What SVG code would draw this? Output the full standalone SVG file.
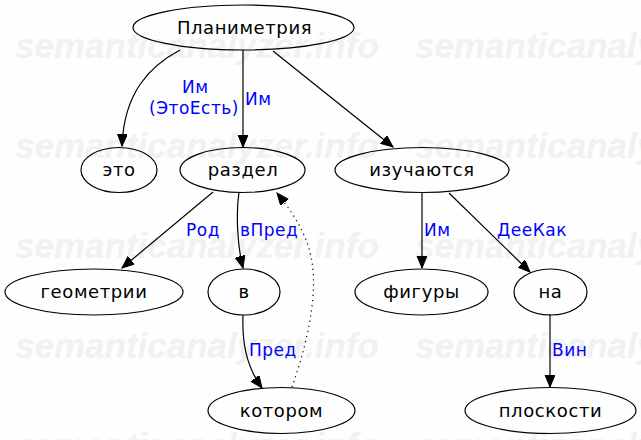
<svg xmlns="http://www.w3.org/2000/svg" width="641" height="440" viewBox="0 0 641 440">
  <style>
    .wm { font-family: "Liberation Sans", Arial, sans-serif; font-weight: bold; font-style: italic; font-size: 35px; fill: #f1f1f1; }
    .node ellipse { fill: none; stroke: #000; stroke-width: 1.2; }
    .node text { font-family: "DejaVu Sans", "Liberation Sans", sans-serif; font-size: 18px; letter-spacing: 0.6px; fill: #000; text-anchor: middle; }
    .edge path { fill: none; stroke: #000; stroke-width: 1.2; }
    .edge .dotted { stroke-dasharray: 1.2 4; }
    .lbl { font-family: "DejaVu Sans", "Liberation Sans", sans-serif; font-size: 17px; letter-spacing: 0.5px; fill: #0000ff; }
  </style>
  <defs>
    <marker id="arrow" markerUnits="userSpaceOnUse" markerWidth="13" markerHeight="11" refX="12" refY="5" orient="auto">
      <path d="M0,0 L12,5 L0,10 Z" fill="#000" stroke="#000" stroke-width="1"/>
    </marker>
  </defs>
  <rect width="641" height="440" fill="#fefefe"/>

  <!-- background watermark rows -->
  <g id="watermark">
    <text class="wm" x="15" y="58">semanticanalyzer.info</text>
    <text class="wm" x="415" y="58">semanticanalyzer.info</text>
    <text class="wm" x="15" y="158">semanticanalyzer.info</text>
    <text class="wm" x="415" y="158">semanticanalyzer.info</text>
    <text class="wm" x="15" y="258">semanticanalyzer.info</text>
    <text class="wm" x="415" y="258">semanticanalyzer.info</text>
    <text class="wm" x="15" y="358">semanticanalyzer.info</text>
    <text class="wm" x="415" y="358">semanticanalyzer.info</text>
    <text class="wm" x="15" y="458">semanticanalyzer.info</text>
    <text class="wm" x="415" y="458">semanticanalyzer.info</text>
  </g>

  <g id="edges" class="edge">
    <path d="M180,50 C150,66 124,92 122,146" marker-end="url(#arrow)"/>
    <path d="M243,50 L243,147" marker-end="url(#arrow)"/>
    <path d="M273,51 L393,147" marker-end="url(#arrow)"/>
    <path d="M213,192 L122,268" marker-end="url(#arrow)"/>
    <path d="M239,192 C236,212 237,245 243,268" marker-end="url(#arrow)"/>
    <path class="dotted" d="M292,387 C305,350 318,300 312,262 C308,236 294,214 277,193" marker-end="url(#arrow)"/>
    <path d="M243,315 C242,342 246,366 262,388" marker-end="url(#arrow)"/>
    <path d="M422,192 L422,268" marker-end="url(#arrow)"/>
    <path d="M449,193 L530,272" marker-end="url(#arrow)"/>
    <path d="M550,314 L550,387" marker-end="url(#arrow)"/>

    <text class="lbl" x="182" y="93">Им</text>
    <text class="lbl" x="149" y="114">(ЭтоЕсть)</text>
    <text class="lbl" x="245" y="105">Им</text>
    <text class="lbl" x="186" y="236">Род</text>
    <text class="lbl" x="240" y="236">вПред</text>
    <text class="lbl" x="424" y="236">Им</text>
    <text class="lbl" x="497" y="236">ДееКак</text>
    <text class="lbl" x="249" y="356">Пред</text>
    <text class="lbl" x="552" y="356">Вин</text>
  </g>

  <g id="n-planimetriya" class="node">
    <ellipse cx="243.5" cy="27.5" rx="110.5" ry="22.5"/>
    <text x="244.5" y="34">Планиметрия</text>
  </g>
  <g id="n-eto" class="node">
    <ellipse cx="119" cy="170" rx="38" ry="22.5"/>
    <text x="119" y="176">это</text>
  </g>
  <g id="n-razdel" class="node">
    <ellipse cx="242.5" cy="170" rx="62.5" ry="22.5"/>
    <text x="243" y="176">раздел</text>
  </g>
  <g id="n-izuchayutsya" class="node">
    <ellipse cx="422" cy="170" rx="87" ry="22.5"/>
    <text x="422" y="176">изучаются</text>
  </g>
  <g id="n-geometrii" class="node">
    <ellipse cx="94" cy="292" rx="89" ry="23"/>
    <text x="94" y="298">геометрии</text>
  </g>
  <g id="n-v" class="node">
    <ellipse cx="244" cy="292" rx="36" ry="23"/>
    <text x="244" y="298">в</text>
  </g>
  <g id="n-figury" class="node">
    <ellipse cx="421.5" cy="292" rx="66.5" ry="23"/>
    <text x="421.5" y="298">фигуры</text>
  </g>
  <g id="n-na" class="node">
    <ellipse cx="550.5" cy="292" rx="36.5" ry="23"/>
    <text x="550.5" y="298">на</text>
  </g>
  <g id="n-kotorom" class="node">
    <ellipse cx="281.5" cy="410.5" rx="73.5" ry="23"/>
    <text x="281.5" y="416.5">котором</text>
  </g>
  <g id="n-ploskosti" class="node">
    <ellipse cx="550.5" cy="410.5" rx="85.5" ry="23"/>
    <text x="550.5" y="416.5">плоскости</text>
  </g>
</svg>
